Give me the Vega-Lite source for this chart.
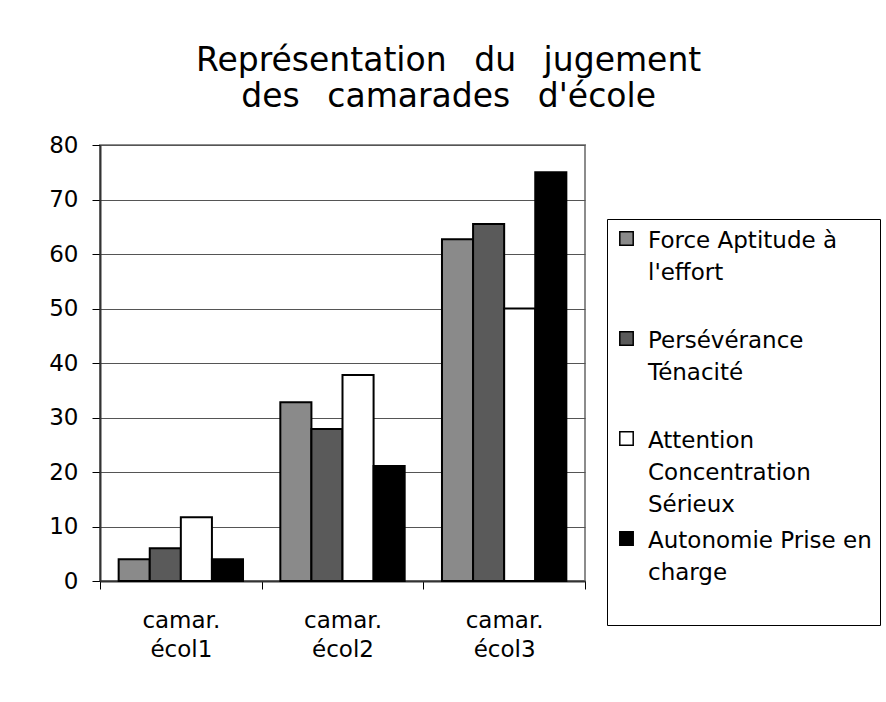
{
  "$schema": "https://vega.github.io/schema/vega-lite/v6.json",
  "width": 485,
  "height": 436,
  "padding": {"left": 48, "top": 45, "right": 5, "bottom": 5},
  "background": "white",
  "title": {
    "text": ["Représentation\u00a0\u00a0\u2009du\u00a0\u00a0\u2009jugement", "des\u00a0\u00a0\u2009camarades\u00a0\u00a0\u2009d'école"],
    "font": "DejaVu Sans",
    "fontSize": 33,
    "fontWeight": "normal",
    "lineHeight": 36,
    "color": "black",
    "anchor": "middle",
    "frame": "bounds",
    "dx": -16,
    "offset": 20
  },
  "data": {
    "values": [
      {"ecole": "camar.|écol1", "critere": "Force Aptitude à|l'effort", "valeur": 4},
      {"ecole": "camar.|écol1", "critere": "Persévérance|Ténacité", "valeur": 6},
      {"ecole": "camar.|écol1", "critere": "Attention|Concentration|Sérieux", "valeur": 11.7},
      {"ecole": "camar.|écol1", "critere": "Autonomie Prise en|charge", "valeur": 4},
      {"ecole": "camar.|écol2", "critere": "Force Aptitude à|l'effort", "valeur": 32.8},
      {"ecole": "camar.|écol2", "critere": "Persévérance|Ténacité", "valeur": 27.9},
      {"ecole": "camar.|écol2", "critere": "Attention|Concentration|Sérieux", "valeur": 37.8},
      {"ecole": "camar.|écol2", "critere": "Autonomie Prise en|charge", "valeur": 21.1},
      {"ecole": "camar.|écol3", "critere": "Force Aptitude à|l'effort", "valeur": 62.7},
      {"ecole": "camar.|écol3", "critere": "Persévérance|Ténacité", "valeur": 65.5},
      {"ecole": "camar.|écol3", "critere": "Attention|Concentration|Sérieux", "valeur": 50},
      {"ecole": "camar.|écol3", "critere": "Autonomie Prise en|charge", "valeur": 75}
    ]
  },
  "mark": {"type": "bar", "stroke": "black", "strokeWidth": 2},
  "encoding": {
    "x": {
      "field": "ecole",
      "type": "nominal",
      "sort": null,
      "title": null,
      "scale": {"paddingInner": 0, "paddingOuter": 0},
      "axis": {
        "labelExpr": "split(datum.label, '|')",
        "labelAngle": 0,
        "labelFont": "DejaVu Sans",
        "labelFontSize": 23,
        "labelLineHeight": 29,
        "labelColor": "black",
        "labelPadding": 20,
        "tickBand": "extent",
        "tickSize": 8,
        "tickColor": "black",
        "domainColor": "#333333",
        "domainWidth": 2,
        "grid": false
      }
    },
    "xOffset": {
      "field": "critere",
      "type": "nominal",
      "sort": null,
      "scale": {"paddingInner": 0, "paddingOuter": 0.6}
    },
    "y": {
      "field": "valeur",
      "type": "quantitative",
      "title": null,
      "scale": {"domain": [0, 80], "nice": false},
      "axis": {
        "values": [0, 10, 20, 30, 40, 50, 60, 70, 80],
        "labelFont": "DejaVu Sans",
        "labelFontSize": 23,
        "labelColor": "black",
        "labelPadding": 14,
        "tickSize": 8,
        "tickColor": "black",
        "domainColor": "#333333",
        "domainWidth": 2,
        "gridColor": "#555555",
        "gridWidth": 1.2
      }
    },
    "fill": {
      "field": "critere",
      "type": "nominal",
      "sort": null,
      "scale": {
        "domain": ["Force Aptitude à|l'effort", "Persévérance|Ténacité", "Attention|Concentration|Sérieux", "Autonomie Prise en|charge"],
        "range": ["#8a8a8a", "#5a5a5a", "#ffffff", "#000000"]
      },
      "legend": {
        "title": null,
        "orient": "none",
        "legendX": 507,
        "legendY": 74,
        "labelExpr": "indexof(datum.label, 'charge') >= 0 ? ['Autonomie Prise en', 'charge', ' '] : split(datum.label, '|')",
        "labelFont": "DejaVu Sans",
        "labelFontSize": 23,
        "labelColor": "black",
        "labelLimit": 400,
        "labelBaseline": "top",
        "labelOffset": 10,
        "symbolType": "square",
        "symbolSize": 180,
        "symbolStrokeColor": "black",
        "symbolStrokeWidth": 1.5,
        "gridAlign": "all",
        "rowPadding": 10,
        "padding": 8,
        "strokeColor": "black",
        "fillColor": "white",
        "encode": {
          "labels": {"update": {"lineHeight": {"value": 32}, "dy": {"value": -9}}}
        }
      }
    }
  },
  "config": {
    "view": {"stroke": "#8c8c8c", "strokeWidth": 2},
    "font": "DejaVu Sans"
  }
}
